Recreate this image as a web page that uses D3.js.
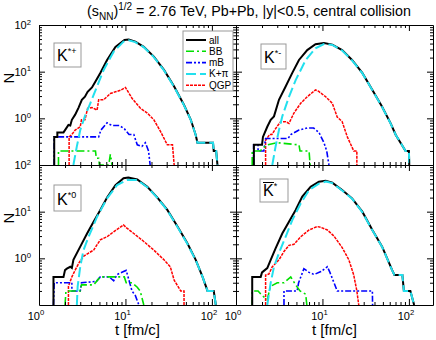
<!DOCTYPE html>
<html>
<head>
<meta charset="utf-8">
<script src="https://cdn.jsdelivr.net/npm/d3@7"></script>
<style>
    body { margin: 0; background: #fff; }
    svg { font-family: "Liberation Sans", Arial, sans-serif; }
</style>
</head>
<body>
<div id="chart"></div>
<script>
// series are [t (fm/c), N] pairs; 0.1 = bottom of the panel
const kPlusAll = [[1.5,0.1],[1.5,0.4],[1.63,0.4],[1.63,0.5],[1.92,0.5],[2.0,0.56],[2.19,0.72],[2.3,0.7],[2.4,0.93],[2.62,1.2],[2.87,1.7],[3.13,2.5],[3.4,2.9],[3.65,3.7],[4.1,4.6],[4.48,6.1],[5.12,9.4],[6.13,17.8],[7.66,34],[9.74,47.7],[10.9,49],[13,44],[16.3,34],[21.3,21],[27.9,10.9],[36.6,4.8],[47.6,1.93],[57,0.93],[65,0.44],[68,0.3],[103,0.3],[105,0.2],[112,0.2],[116,0.1]];
const kPlusKpi = [[2.5,0.1],[2.74,0.25],[3.0,0.56],[3.43,1.17],[3.92,2.1],[4.69,4.8],[5.6,10.9],[7.3,26.8],[9.5,44],[10.9,47],[13,43],[16.3,33.5],[21.3,20.5],[27.9,10.7],[36.6,4.7],[47.6,1.9],[57,0.92],[65,0.44],[68,0.3],[103,0.3],[105,0.2],[112,0.2],[116,0.1]];
const kPlusQgp = [[2.23,0.1],[2.23,0.4],[2.4,0.45],[2.62,0.56],[3.0,0.66],[3.1,0.93],[3.4,0.93],[3.65,1.64],[4.1,1.7],[4.7,1.5],[4.9,2.5],[5.6,2.5],[6.7,3.4],[7.66,3.7],[8.8,4.0],[10,4.6],[11.9,2.7],[14.9,1.64],[17.9,1.3],[21.3,0.93],[25.5,0.52],[30.5,0.27],[35,0.27],[36.6,0.1]];
const kPlusMb = [[1.5,0.1],[1.5,0.4],[4.9,0.4],[5.2,0.56],[6.13,0.8],[7,0.7],[8.5,0.7],[9.7,0.6],[11,0.45],[12.5,0.45],[13.7,0.27],[15.5,0.25],[17,0.3],[18.5,0.2],[19.3,0.1]];
const kPlusBb = [[1.68,0.1],[1.68,0.2],[4.5,0.2],[4.6,0.14],[4.9,0.14],[5.0,0.1],[6.4,0.1],[6.7,0.17],[7.0,0.1]];

const kMinusAll = [[1.61,0.1],[1.61,0.27],[2.0,0.27],[2.05,0.4],[2.3,0.66],[2.52,0.93],[2.75,1.1],[3.14,2.5],[3.75,4.8],[4.48,9.4],[5.35,17.8],[6.67,29],[8.3,38.6],[10.4,41],[13,38],[16.9,29],[22,17.8],[28.9,9.4],[37.8,4.05],[49,1.77],[61.5,0.78],[70.5,0.44],[80,0.3],[91.5,0.2],[100,0.2],[101,0.1]];
const kMinusKpi = [[2.63,0.1],[2.87,0.25],[3.14,0.56],[3.43,1.1],[4.1,2.9],[4.9,6.6],[6.4,17.8],[8.3,31.7],[10.4,39],[13,37.5],[16.9,28.5],[22,17.5],[28.9,9.3],[37.8,4.0],[49,1.75],[61.5,0.77],[70.5,0.44],[80,0.3],[91.5,0.2],[100,0.2],[101,0.1]];
const kMinusQgp = [[2.2,0.1],[2.2,0.34],[2.45,0.45],[2.6,0.45],[2.87,0.6],[3.28,0.85],[3.75,0.85],[4.1,0.78],[4.68,1.3],[5.6,2.1],[6.67,2.9],[8.3,4.05],[9,3.8],[10.9,2.9],[13,2.1],[14.8,1.07],[16.9,0.85],[19.4,0.4],[23,0.2],[25,0.2],[25,0.1]];
const kMinusMb = [[1.6,0.1],[1.6,0.27],[1.8,0.27],[1.8,0.2],[2.1,0.2],[2.2,0.37],[4.0,0.37],[4.3,0.45],[5.35,0.56],[6.67,0.62],[7.9,0.62],[9.1,0.5],[10.4,0.3],[11.2,0.2],[11.9,0.1]];
const kMinusBb = [[1.54,0.1],[1.54,0.2],[1.9,0.2],[2.1,0.24],[2.3,0.27],[3.0,0.3],[5.35,0.27],[5.5,0.2],[7.0,0.2],[7.2,0.1]];

const kZeroAll = [[1.47,0.1],[1.47,0.4],[1.92,0.4],[2.0,0.56],[2.1,0.6],[2.3,0.66],[2.4,0.62],[2.5,0.93],[3.0,1.78],[3.6,3.4],[4.28,6.1],[5.12,10.9],[6.13,20],[7.66,37],[9.5,52],[10.8,54],[13.7,49],[17.9,34],[23.4,20],[30.5,10.9],[40,4.8],[52,2.1],[65,0.93],[78,0.4],[89,0.2],[105,0.2],[111,0.1]];
const kZeroKpi = [[2.74,0.1],[2.8,0.25],[3.0,0.66],[3.27,1.5],[3.75,2.9],[4.7,7.8],[6.13,19.3],[8.0,37],[10.4,48],[13.7,48],[17.9,33.5],[23.4,19.7],[30.5,10.7],[40,4.7],[52,2.05],[65,0.91],[78,0.4],[89,0.2],[105,0.2],[111,0.1]];
const kZeroQgp = [[2.19,0.1],[2.19,0.25],[2.4,0.4],[2.62,0.56],[2.9,0.8],[3.27,1.1],[3.75,1.3],[4.28,1.5],[5.12,2.5],[6.13,2.9],[7.3,3.7],[9.5,5.2],[10.3,4.5],[12.5,3.4],[16.3,2.3],[21.3,1.5],[27.9,0.93],[33,0.66],[36.6,0.34],[43.6,0.2],[47.6,0.2],[47.6,0.1]];
const kZeroMb = [[1.47,0.1],[1.5,0.3],[2.4,0.3],[2.4,0.2],[3.0,0.2],[3.1,0.3],[4.6,0.32],[5.12,0.4],[6.5,0.4],[7.3,0.33],[8.0,0.45],[9.5,0.52],[10.2,0.55],[10.8,0.38],[11.9,0.2],[13,0.16],[14.3,0.1]];
const kZeroBb = [[2.0,0.1],[2.05,0.2],[3.0,0.2],[3.1,0.27],[4.28,0.27],[5.12,0.4],[9.7,0.4],[10.2,0.3],[11.9,0.3],[13.7,0.24],[14.8,0.2],[16.3,0.1]];

const kBarAll = [[1.54,0.1],[1.54,0.4],[1.93,0.4],[2.0,0.5],[2.3,0.62],[2.52,0.93],[2.87,1.64],[3.43,3.4],[4.1,6.1],[4.9,10.9],[5.84,21],[7.3,34],[9.1,44],[10.9,46],[13,42],[16.9,29],[22,19.3],[28.9,10],[37.8,4.05],[49,1.78],[64,0.56],[68,0.44],[84,0.44],[87.5,0.2],[104,0.2],[115,0.1]];
const kBarKpi = [[2.3,0.1],[2.52,0.3],[2.75,0.66],[3.14,1.3],[3.75,2.9],[4.48,6.6],[5.6,15],[7.0,29],[9.1,40],[11,44],[13,41],[16.9,28.5],[22,19],[28.9,9.8],[37.8,4.0],[49,1.76],[64,0.55],[68,0.44],[84,0.44],[87.5,0.2],[104,0.2],[115,0.1]];
const kBarQgp = [[2.2,0.1],[2.2,0.44],[2.4,0.46],[2.63,0.66],[3.14,0.93],[3.59,1.4],[4.1,1.9],[4.68,2.0],[5.6,2.9],[7.0,4.05],[8.7,4.8],[9.6,4.6],[11.4,4.05],[13.6,3.0],[16.9,1.7],[20.2,0.93],[23,0.44],[25,0.2],[26.3,0.1]];
const kBarMb = [[3.59,0.1],[3.59,0.2],[5.1,0.2],[5.3,0.3],[6.1,0.6],[7,0.5],[8.0,0.45],[9.6,0.52],[11.4,0.66],[12.2,0.5],[13.6,0.3],[14.8,0.2],[37.8,0.2],[38,0.1]];
const kBarBb = [[1.54,0.1],[1.54,0.2],[1.8,0.2],[2.0,0.16],[2.3,0.13],[2.5,0.25],[3.0,0.3],[3.6,0.3],[4.3,0.4],[4.9,0.27],[5.5,0.2],[6.4,0.17],[6.6,0.1]];

const seriesNames = ["all", "BB", "mB", "K+\u03c0", "QGP"];
const xTicks = [1, 10, 100];
const yTicks = [100, 10, 1];
const tickExps = {1: "0", 10: "1", 100: "2"};

const width = 436, height = 340;
const pw = 197, ph = 140;
const marginLeft = 39, marginTop = 25;

const styles = {
    "all":   {color: "#000000", dash: null, w: 2},
    "BB":    {color: "#00e000", dash: "8,3,2,3", w: 1.6},
    "mB":    {color: "#0000ff", dash: "6,2,2,2,2,2", w: 1.6},
    "K+\u03c0": {color: "#22e0ee", dash: "10,4", w: 2},
    "QGP":   {color: "#ff0000", dash: "3,1", w: 1.5}
};

const panels = [
    {col: 0, row: 0, label: "*+", bar: false, box: [15, 18, 27, 24],
        data: {"all": kPlusAll, "BB": kPlusBb, "mB": kPlusMb, "K+\u03c0": kPlusKpi, "QGP": kPlusQgp}},
    {col: 1, row: 0, label: "*-", bar: false, box: [25, 19, 25, 25],
        data: {"all": kMinusAll, "BB": kMinusBb, "mB": kMinusMb, "K+\u03c0": kMinusKpi, "QGP": kMinusQgp}},
    {col: 0, row: 1, label: "*0", bar: false, box: [15, 20, 27, 26],
        data: {"all": kZeroAll, "BB": kZeroBb, "mB": kZeroMb, "K+\u03c0": kZeroKpi, "QGP": kZeroQgp}},
    {col: 1, row: 1, label: "*", bar: true, box: [24, 14, 28, 23],
        data: {"all": kBarAll, "BB": kBarBb, "mB": kBarMb, "K+\u03c0": kBarKpi, "QGP": kBarQgp}}
];

const svg = d3.select("#chart").append("svg")
    .attr("width", width)
    .attr("height", height);

// title
const title = svg.append("text")
    .attr("x", 249).attr("y", 16)
    .attr("text-anchor", "middle")
    .attr("font-size", 14.3);
title.append("tspan").text("(s");
title.append("tspan").attr("font-size", 10).attr("dy", 4).text("NN");
title.append("tspan").attr("dy", -4).text(")");
title.append("tspan").attr("font-size", 10).attr("dy", -6).text("1/2");
title.append("tspan").attr("dy", 6).text(" = 2.76 TeV, Pb+Pb, |y|<0.5, central collision");

const x = d3.scaleLog().domain([1, 190]).range([0, pw]);
const y = d3.scaleLog().domain([0.1, 100]).range([ph, 0]);

const line = d3.line()
    .x(d => x(d[0]))
    .y(d => y(Math.max(d[1], 0.1)));

svg.append("defs").append("clipPath").attr("id", "clip")
    .append("rect").attr("x", 0).attr("y", -1).attr("width", pw).attr("height", ph + 1);

const minorX = [2,3,4,5,6,7,8,9,20,30,40,50,60,70,80,90];
const minorY = [0.2,0.3,0.4,0.5,0.6,0.7,0.8,0.9,2,3,4,5,6,7,8,9,20,30,40,50,60,70,80,90];

function powText(g, px, py, exp, anchor, fs) {
    const t = g.append("text")
        .attr("x", px).attr("y", py)
        .attr("text-anchor", anchor)
        .attr("font-size", fs);
    t.append("tspan").text("10");
    t.append("tspan").attr("font-size", fs * 0.7).attr("dy", -fs * 0.4).text(exp);
}

panels.forEach(p => {
    const g = svg.append("g")
        .attr("transform", "translate(" + (marginLeft + p.col * pw) + "," + (marginTop + p.row * ph) + ")");

    // curves
    const plot = g.append("g").attr("clip-path", "url(#clip)");
    ["QGP", "mB", "BB", "all", "K+\u03c0"].forEach(name => {
        const s = styles[name];
        plot.append("path")
            .datum(p.data[name])
            .attr("d", line)
            .attr("fill", "none")
            .attr("stroke", s.color)
            .attr("stroke-width", s.w)
            .attr("stroke-dasharray", s.dash);
    });

    // frame with inward ticks on all four sides
    const axes = [
        [d3.axisBottom, x, minorX, xTicks, "translate(0," + ph + ")"],
        [d3.axisTop, x, minorX, xTicks, "translate(0,0)"],
        [d3.axisLeft, y, minorY, yTicks, "translate(0,0)"],
        [d3.axisRight, y, minorY, yTicks, "translate(" + pw + ",0)"]
    ];
    axes.forEach(a => {
        g.append("g").attr("transform", a[4])
            .call(a[0](a[1]).tickValues(a[3]).tickSizeInner(-6).tickSizeOuter(0).tickFormat(""));
        g.append("g").attr("transform", a[4])
            .call(a[0](a[1]).tickValues(a[2]).tickSizeInner(-3).tickSizeOuter(0).tickFormat(""))
            .select(".domain").remove();
    });

    // tick labels only on outer edges
    if (p.col === 0) {
        yTicks.forEach(v => powText(g, -8, y(v) + 4, tickExps[v], "end", 11));
        g.append("text")
            .attr("transform", "translate(-25," + 53 + ") rotate(-90)")
            .attr("text-anchor", "middle")
            .attr("font-size", 15)
            .text("N");
    }
    if (p.row === 1) {
        xTicks.forEach(v => powText(g, x(v) - 3, ph + 14.5, tickExps[v], "middle", 11));
        g.append("text")
            .attr("x", pw / 2).attr("y", ph + 30)
            .attr("text-anchor", "middle")
            .attr("font-size", 15)
            .text("t [fm/c]");
    }

    // particle label box
    const b = p.box;
    g.append("rect")
        .attr("x", b[0]).attr("y", b[1]).attr("width", b[2]).attr("height", b[3])
        .attr("fill", "#fff").attr("stroke", "#999").attr("stroke-width", 1);
    const lab = g.append("text")
        .attr("x", b[0] + 3).attr("y", b[1] + b[3] - 6)
        .attr("font-size", 16);
    lab.append("tspan").text("K");
    lab.append("tspan").attr("font-size", 9).attr("dy", -7).text(p.label);
    if (p.bar) {
        g.append("line")
            .attr("x1", b[0] + 3).attr("x2", b[0] + 14)
            .attr("y1", b[1] + 3.5).attr("y2", b[1] + 3.5)
            .attr("stroke", "#000").attr("stroke-width", 1);
    }

    // legend in the first panel
    if (p.col === 0 && p.row === 0) {
        const lg = g.append("g").attr("transform", "translate(144,6)");
        lg.append("rect")
            .attr("width", 50).attr("height", 60)
            .attr("fill", "#fff").attr("stroke", "#999");
        seriesNames.forEach((name, i) => {
            const s = styles[name];
            const yy = 9 + i * 11.3;
            lg.append("line")
                .attr("x1", 3).attr("x2", 23).attr("y1", yy).attr("y2", yy)
                .attr("stroke", s.color).attr("stroke-width", s.w)
                .attr("stroke-dasharray", s.dash);
            lg.append("text")
                .attr("x", 26).attr("y", yy + 3.5)
                .attr("font-size", 10)
                .text(name);
        });
    }
});
</script>
</body>
</html>
